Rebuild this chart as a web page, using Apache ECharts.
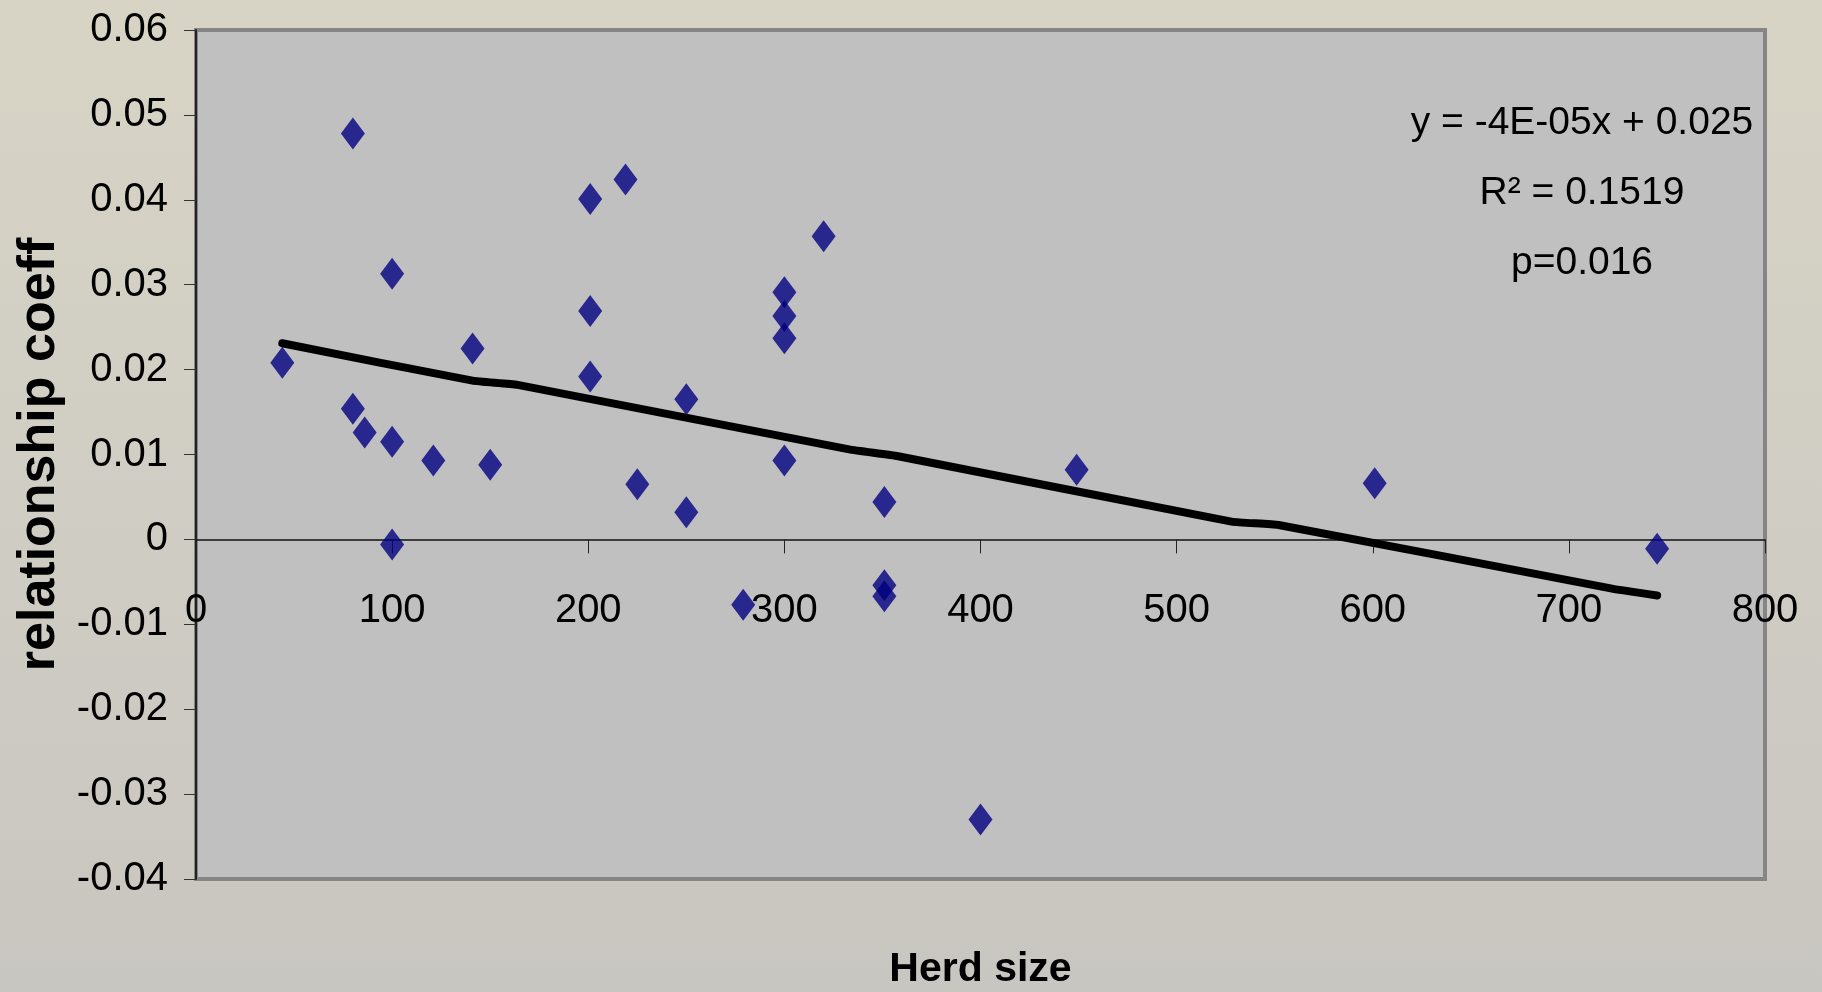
<!DOCTYPE html>
<html>
<head>
<meta charset="utf-8">
<script src="https://cdn.jsdelivr.net/npm/echarts@6/dist/echarts.min.js"></script>
<style>
  html, body { margin: 0; padding: 0; }
  #chart_box { width: 1822px; height: 992px; }
</style>
</head>
<body>
<div id="chart_box"></div>
<script>
// herd size vs relationship coefficient
const herdSize = [44, 80, 80, 86, 100, 100, 100, 121, 141, 150,
                  201, 201, 201, 219, 225, 250, 250, 279, 300, 300,
                  300, 300, 320, 351, 351, 351, 400, 449, 601, 745];
const relCoeff = [0.0208, 0.0478, 0.0154, 0.0126, 0.0313, 0.0115, -0.0006, 0.0093, 0.0225, 0.0088,
                  0.0401, 0.0269, 0.0192, 0.0424, 0.0065, 0.0165, 0.0032, -0.0077, 0.0291, 0.0263,
                  0.0237, 0.0093, 0.0357, 0.0044, -0.0054, -0.0067, -0.0330, 0.0082, 0.0066, -0.0011];
// trend line vertices as drawn
const trendX = [44, 141, 164, 333, 358, 528, 552, 722, 745];
const trendY = [0.0231, 0.0187, 0.0182, 0.0106, 0.0098, 0.0021, 0.0017, -0.0058, -0.0066];
// axis ranges
const xMin = 0, xMax = 800, xStep = 100;
const yMin = -0.04, yMax = 0.06, yStep = 0.01;
const statLines = ['y = -4E-05x + 0.025', 'R\u00b2 = 0.1519', 'p=0.016'];

const sans = "'Liberation Sans', Arial, sans-serif";

let scatterData = herdSize.map((x, i) => [x, relCoeff[i]]);
let trendData = trendX.map((x, i) => [x, trendY[i]]);

let myEcharts = echarts.init(document.getElementById('chart_box'));
let option = {
  backgroundColor: {
    type: 'linear', x: 0, y: 0, x2: 0, y2: 1,
    colorStops: [
      { offset: 0, color: '#d8d4c5' },
      { offset: 0.5, color: '#d0cdc4' },
      { offset: 1, color: '#c8c6c0' }
    ]
  },
  animation: false,
  title: {
    text: statLines.join('\n'),
    left: 1577,
    top: 83,
    textAlign: 'center',
    textStyle: {
      fontFamily: sans,
      fontSize: 39,
      fontWeight: 'normal',
      color: '#000',
      lineHeight: 70
    }
  },
  grid: {
    left: 196,
    right: 57,
    top: 30,
    bottom: 113,
    outerBoundsMode: 'none',
    containLabel: false,
    show: true,
    backgroundColor: '#c0c0c0',
    borderColor: '#858585',
    borderWidth: 4
  },
  xAxis: {
    type: 'value',
    min: xMin,
    max: xMax,
    interval: xStep,
    name: 'Herd size',
    nameLocation: 'middle',
    nameGap: 70,
    nameTextStyle: {
      fontFamily: sans,
      fontSize: 41,
      fontWeight: 'bold',
      color: '#000'
    },
    axisLine: { show: true, onZero: true, lineStyle: { color: '#111', width: 1.5 } },
    axisTick: { show: true, length: 14, lineStyle: { color: '#222', width: 1 } },
    axisLabel: {
      // labels sit just under the zero line, as in the source
      margin: -288,
      fontFamily: sans,
      fontSize: 40,
      color: '#000'
    },
    splitLine: { show: false }
  },
  yAxis: {
    type: 'value',
    min: yMin,
    max: yMax,
    interval: yStep,
    name: 'relationship coeff',
    nameLocation: 'middle',
    nameGap: 127,
    nameTextStyle: {
      fontFamily: sans,
      fontSize: 52,
      fontWeight: 'bold',
      color: '#000'
    },
    axisLine: { show: true, onZero: false, lineStyle: { color: '#222', width: 2 } },
    axisTick: { show: true, length: 12, lineStyle: { color: '#333', width: 1 } },
    axisLabel: {
      margin: 28,
      fontFamily: sans,
      fontSize: 40,
      color: '#000',
      formatter: v => String(Number(v.toFixed(2)))
    },
    splitLine: { show: false }
  },
  series: [
    {
      name: 'herds',
      type: 'scatter',
      symbol: 'diamond',
      symbolSize: [24, 32],
      itemStyle: { color: '#000080' },
      data: scatterData,
      z: 2
    },
    {
      name: 'trend',
      type: 'line',
      data: trendData,
      showSymbol: false,
      smooth: 0.15,
      lineStyle: { color: '#000', width: 8, cap: 'round', join: 'round' },
      z: 3
    }
  ]
};
myEcharts.setOption(option);
</script>
</body>
</html>
